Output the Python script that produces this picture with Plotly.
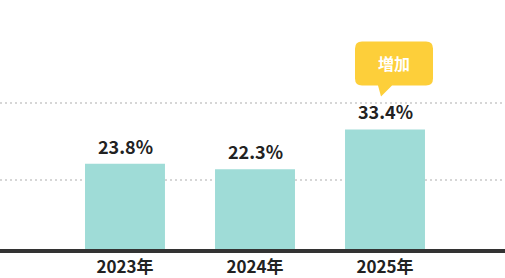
import plotly.graph_objects as go

categories = ["2023年", "2024年", "2025年"]
values = [23.8, 22.3, 33.4]
value_labels = ["23.8%", "22.3%", "33.4%"]
grid_values = [19.3, 40.9]
badge_text = "増加"
badge_index = 2

FONT = "Noto Sans CJK JP"
BAR = "#9fdcd7"
TXT = "#222222"
YEL = "#fdcf3a"

fig = go.Figure()
fig.add_trace(go.Bar(
    x=list(range(len(categories))), y=values,
    marker=dict(color=BAR, line=dict(width=0)),
    width=0.615, hoverinfo="skip",
))

for i, (v, lab) in enumerate(zip(values, value_labels)):
    fig.add_annotation(x=i, y=v, text=f"<b>{lab}</b>", showarrow=False,
                       xanchor="center", yanchor="bottom", yshift=3,
                       font=dict(family=FONT, size=18, color=TXT))

# speech bubble anchored to the highlighted bar
r = 7
x0, x1, yb, yt = -30, 48, 44, 88
path = (f"M {x0+r},{yb} L -7,{yb} L -4,33 L 7,{yb} L {x1-r},{yb} "
        f"Q {x1},{yb} {x1},{yb+r} L {x1},{yt-r} Q {x1},{yt} {x1-r},{yt} "
        f"L {x0+r},{yt} Q {x0},{yt} {x0},{yt-r} L {x0},{yb+r} Q {x0},{yb} {x0+r},{yb} Z")
fig.add_shape(type="path", xref="x", yref="y", xsizemode="pixel", ysizemode="pixel",
              xanchor=badge_index, yanchor=values[badge_index], path=path,
              fillcolor=YEL, line=dict(width=0), layer="above")
fig.add_annotation(x=badge_index, y=values[badge_index], text=f"<b>{badge_text}</b>",
                   showarrow=False, xanchor="center", yanchor="middle",
                   xshift=9, yshift=66,
                   font=dict(family=FONT, size=16, color="white"))

fig.update_layout(
    width=505, height=278,
    margin=dict(l=0, r=0, t=0, b=29),
    paper_bgcolor="white", plot_bgcolor="white",
    showlegend=False,
    xaxis=dict(range=[-0.9615, 2.923], tickvals=list(range(len(categories))),
               ticktext=[f"<b>{c}</b>" for c in categories],
               tickfont=dict(family=FONT, size=17, color=TXT),
               showgrid=False, zeroline=False, showline=True, linecolor="#333333",
               linewidth=4, ticks="", fixedrange=True),
    yaxis=dict(range=[0, 69.55], tickvals=grid_values, showticklabels=False,
               showgrid=True, gridcolor="#d6d6d6", griddash="2px,3px", gridwidth=2,
               zeroline=False, showline=False, fixedrange=True),
)

fig.write_html("out.html", config={"displayModeBar": False})
